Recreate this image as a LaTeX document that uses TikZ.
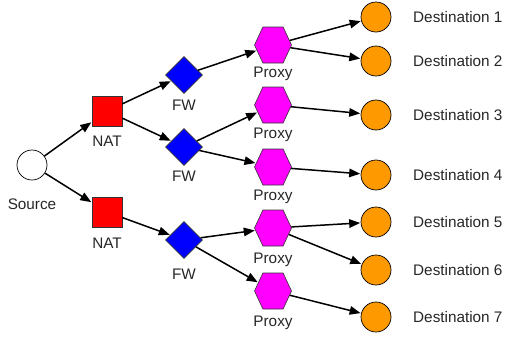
\documentclass[tikz,border=0pt]{standalone}
\usepackage{fontspec}
\setmainfont{Liberation Sans}
\usetikzlibrary{shapes.geometric,shapes.symbols,arrows.meta}
\definecolor{destorange}{HTML}{FF9900}
\definecolor{proxypink}{HTML}{FF00FF}
\definecolor{natred}{HTML}{FF0000}
\definecolor{fwblue}{HTML}{0000FF}
\tikzset{
  hostnode/.style={circle,draw=black,line width=0.7pt,minimum size=30pt,inner sep=0pt},
  srcnode/.style={hostnode,fill=white},
  dstnode/.style={hostnode,fill=destorange},
  natnode/.style={rectangle,draw=black!80,line width=0.6pt,fill=natred,minimum size=30pt,inner sep=0pt},
  fwnode/.style={diamond,draw=black!80,line width=0.6pt,fill=fwblue,minimum width=37pt,minimum height=37pt,inner sep=0pt},
  proxynode/.style={signal,signal to=east and west,signal pointer angle=130,
    draw=black!80,line width=0.6pt,fill=proxypink,minimum width=37pt,minimum height=36pt,inner sep=0pt},
  tag/.style={font=\fontsize{15.3}{17}\selectfont,text=black!85,inner sep=0pt},
  link/.style={line width=1.5pt,-{Triangle[length=11pt,width=8.5pt]},shorten >=0.5pt}
}
\begin{document}
\begin{tikzpicture}[x=1pt,y=-1pt]
\useasboundingbox (0,0) rectangle (515,341);

% source
\node[srcnode] (src) at (32,165) {};
\node[tag] (srcl) at (32,204) {Source};

% NAT boxes
\node[natnode] (nat1) at (107,111) {};
\node[tag] (nat1l) at (107,141) {NAT};
\node[natnode] (nat2) at (107,212) {};
\node[tag] (nat2l) at (107,243) {NAT};

% firewalls
\node[fwnode] (fw1) at (184,75) {};
\node[tag] (fw1l) at (184,105) {FW};
\node[fwnode] (fw2) at (184,147) {};
\node[tag] (fw2l) at (184,176) {FW};
\node[fwnode] (fw3) at (184,240) {};
\node[tag] (fw3l) at (184,274) {FW};

% proxies
\node[proxynode] (px1) at (273,45) {};
\node[tag] (px1l) at (273,74) {Proxy};
\node[proxynode] (px2) at (273,105) {};
\node[tag] (px2l) at (273,135) {Proxy};
\node[proxynode] (px3) at (273,167) {};
\node[tag] (px3l) at (273,197) {Proxy};
\node[proxynode] (px4) at (273,228) {};
\node[tag] (px4l) at (273,260) {Proxy};
\node[proxynode] (px5) at (273,291) {};
\node[tag] (px5l) at (273,323) {Proxy};

% destinations
\foreach \i/\y in {1/17,2/61,3/115,4/175,5/222,6/270,7/317}{
  \node[dstnode] (d\i) at (376,\y) {};
  \node[tag,anchor=west] (d\i l) at (413,\y) {Destination \i};
}

% links
\draw[link] (src) -- (nat1);
\draw[link] (src) -- (nat2);
\draw[link] (nat1) -- (fw1);
\draw[link] (nat1) -- (fw2);
\draw[link] (nat2) -- (fw3);
\draw[link] (fw1) -- (px1);
\draw[link] (fw2) -- (px2);
\draw[link] (fw2) -- (px3);
\draw[link] (fw3) -- (px4);
\draw[link] (fw3) -- (px5);
\draw[link] (px1) -- (d1);
\draw[link] (px1) -- (d2);
\draw[link] (px2) -- (d3);
\draw[link] (px3) -- (d4);
\draw[link] (px4) -- (d5);
\draw[link] (px4) -- (d6);
\draw[link] (px5) -- (d7);
\end{tikzpicture}
\end{document}
